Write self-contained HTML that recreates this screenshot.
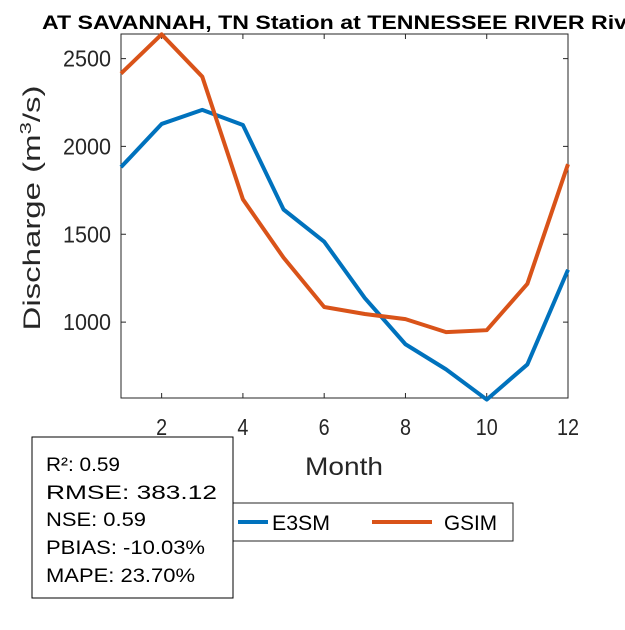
<!DOCTYPE html>
<html><head><style>
body{margin:0;background:#fff;font-family:"Liberation Sans",sans-serif}
</style></head><body>
<svg width="625" height="625" xmlns="http://www.w3.org/2000/svg" font-family="Liberation Sans, sans-serif">
<rect width="625" height="625" fill="#fff"/>
<text x="42" y="29" font-size="19" font-weight="bold" textLength="585" lengthAdjust="spacingAndGlyphs">AT SAVANNAH, TN  Station at  TENNESSEE RIVER  Riv</text>
<g id="plot"></g>
<text transform="translate(40,208) rotate(-90)" text-anchor="middle" font-size="24" fill="#262626" textLength="245" lengthAdjust="spacingAndGlyphs">Discharge (m<tspan dy="-9" font-size="16">3</tspan><tspan dy="9">/s)</tspan></text>
<text x="344" y="475" text-anchor="middle" font-size="25" fill="#262626" textLength="78" lengthAdjust="spacingAndGlyphs">Month</text>
<g>
<rect x="232" y="503" width="281" height="38" fill="#fff" stroke="#262626" stroke-width="1"/>
<line x1="238" y1="522" x2="268" y2="522" stroke="#0072BD" stroke-width="4"/>
<text x="272" y="530" font-size="21" fill="#000" textLength="58" lengthAdjust="spacingAndGlyphs">E3SM</text>
<line x1="372" y1="522" x2="432" y2="522" stroke="#D95319" stroke-width="4"/>
<text x="444" y="530" font-size="21" fill="#000" textLength="53" lengthAdjust="spacingAndGlyphs">GSIM</text>
</g>
<g font-size="19" lengthAdjust="spacingAndGlyphs">
<rect x="32" y="437" width="201" height="161" fill="#fff" stroke="#000" stroke-width="1"/>
<text x="46" y="471" textLength="74" lengthAdjust="spacingAndGlyphs">R²: 0.59</text>
<text x="46" y="499" textLength="171" lengthAdjust="spacingAndGlyphs">RMSE: 383.12</text>
<text x="46" y="526" textLength="100" lengthAdjust="spacingAndGlyphs">NSE: 0.59</text>
<text x="46" y="554" textLength="159" lengthAdjust="spacingAndGlyphs">PBIAS: -10.03%</text>
<text x="46" y="582" textLength="149" lengthAdjust="spacingAndGlyphs">MAPE: 23.70%</text>
</g>
</svg>
<script>
const months=[1,2,3,4,5,6,7,8,9,10,11,12];
const e3sm=[1882,2128,2208,2122,1641,1458,1137,874,731,559,759,1298];
const gsim=[2415,2638,2397,1699,1367,1086,1046,1017,943,954,1218,1899];
const xTicks=[2,4,6,8,10,12];
const yTicks=[1000,1500,2000,2500];
const L=121,R=568,T=34,B=398,XMIN=1,XMAX=12,YMIN=568,YMAX=2640;
const NS="http://www.w3.org/2000/svg";
const g=document.getElementById('plot');
function sx(v){return L+(v-XMIN)/(XMAX-XMIN)*(R-L);}
function sy(v){return B-(v-YMIN)/(YMAX-YMIN)*(B-T);}
function mk(t,a){const e=document.createElementNS(NS,t);for(const k in a)e.setAttribute(k,a[k]);g.appendChild(e);return e;}
const ax=mk('path',{d:`M${L},${T}V${B}H${R}V${T}Z`,fill:'none',stroke:'#262626','stroke-width':1});


xTicks.forEach(v=>{const x=sx(v);
const tk=mk('path',{d:`M${x},${B}v-5M${x},${T}v5`,stroke:'#262626'});


const s=String(v);
const t=mk('text',{x:x,y:435,'text-anchor':'middle','font-size':23,fill:'#262626',textLength:s.length*11,lengthAdjust:'spacingAndGlyphs'});t.textContent=s;

});
yTicks.forEach(v=>{const y=sy(v);
const tk=mk('path',{d:`M${L},${y}h5M${R},${y}h-5`,stroke:'#262626'});


const t=mk('text',{x:L-10,y:y+8,'text-anchor':'end','font-size':23,fill:'#262626',textLength:48,lengthAdjust:'spacingAndGlyphs'});t.textContent=v;

});
function line(d,c,n){const p=mk('polyline',{points:d.map((v,i)=>sx(months[i])+','+sy(v)).join(' '),fill:'none',stroke:c,'stroke-width':4,'stroke-linejoin':'round'});

}
line(e3sm,'#0072BD','e3sm-line');
line(gsim,'#D95319','gsim-line');
</script>
</body></html>
